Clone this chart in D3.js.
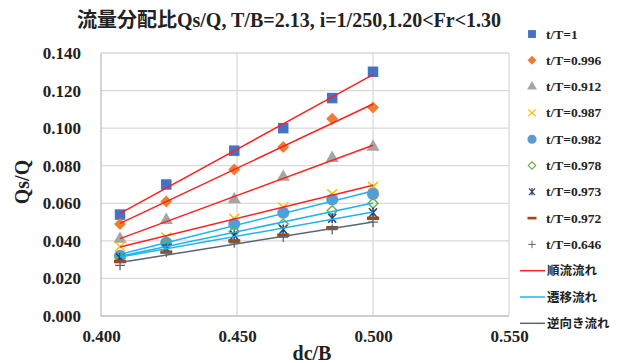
<!DOCTYPE html>
<html>
<head>
<meta charset="utf-8">
<script src="https://cdn.jsdelivr.net/npm/d3@7"></script>
<style>
  body { margin: 0; background: #fff; }
  text { font-family: "Liberation Serif", "Noto Sans CJK JP", serif; font-weight: bold; fill: #222; }
  .jp { font-family: "Noto Sans CJK JP", sans-serif; }
</style>
</head>
<body>
<svg id="chart" width="622" height="363"></svg>
<script>
// dc/B positions of the six runs
const dcB = [0.407, 0.424, 0.449, 0.467, 0.485, 0.500];

// Qs/Q for each t/T series
const s1    = [0.054, 0.070, 0.088, 0.100, 0.116, 0.130];
const s0996 = [0.049, 0.061, 0.078, 0.090, 0.105, 0.111];
const s0912 = [0.041, 0.051, 0.062, 0.074, 0.084, 0.090];
const s0987 = [0.037, 0.042, 0.052, 0.058, 0.065, 0.069];
const s0982 = [0.032, 0.039, 0.049, 0.055, 0.062, 0.065];
const s0978 = [0.031, 0.038, 0.045, 0.049, 0.056, 0.060];
const s0973 = [0.031, 0.036, 0.043, 0.046, 0.052, 0.055];
const s0972 = [0.029, 0.034, 0.040, 0.043, 0.047, 0.052];
const s0646 = [0.027, 0.034, 0.039, 0.042, 0.046, 0.050];

const seriesNames = ["t/T=1", "t/T=0.996", "t/T=0.912", "t/T=0.987", "t/T=0.982",
                     "t/T=0.978", "t/T=0.973", "t/T=0.972", "t/T=0.646"];
const seriesValues = [s1, s0996, s0912, s0987, s0982, s0978, s0973, s0972, s0646];
const seriesShapes = ["square", "diamond", "triangle", "x", "circle", "hdiamond", "star", "dash", "plus"];
const seriesColors = ["#4472C4", "#ED7D31", "#A5A5A5", "#FFC000", "#5B9BD5",
                      "#70AD47", "#264478", "#9E480E", "#636363"];

// trend line groups: index of series -> flow type
const trendNames = ["順流流れ", "遷移流れ", "逆向き流れ"];
const trendColors = ["#FF2020", "#1EB4F0", "#5A6577"];
const trendOf = [0, 0, 0, 0, 1, 1, 1, -1, 2];

const xTicks = [0.400, 0.450, 0.500, 0.550];
const yTicks = [0, 0.02, 0.04, 0.06, 0.08, 0.10, 0.12, 0.14];

const svg = d3.select("#chart");
const x = d3.scaleLinear().domain([0.4, 0.55]).range([101, 509]);
const y = d3.scaleLinear().domain([0, 0.14]).range([316, 53]);

// title
svg.append("text").attr("x", 289).attr("y", 27).attr("text-anchor", "middle")
  .style("font-size", "20px")
  .text("流量分配比Qs/Q, T/B=2.13, i=1/250,1.20<Fr<1.30");

// grid
svg.append("g").selectAll("line").data(yTicks.slice(1)).join("line")
  .attr("x1", x(0.4)).attr("x2", x(0.55))
  .attr("y1", d => y(d)).attr("y2", d => y(d))
  .attr("stroke", "#d9d9d9").attr("stroke-width", 1.3);
svg.append("g").selectAll("line").data(xTicks.slice(1)).join("line")
  .attr("x1", d => x(d)).attr("x2", d => x(d))
  .attr("y1", y(0)).attr("y2", y(0.14))
  .attr("stroke", "#d9d9d9").attr("stroke-width", 1.3);
svg.append("path")
  .attr("d", `M${x(0.4)},${y(0.14)}V${y(0)}H${x(0.55)}`)
  .attr("fill", "none").attr("stroke", "#bfbfbf").attr("stroke-width", 1.3);

// axes
const yAxis = svg.append("g").attr("transform", `translate(${x(0.4)},0)`)
  .call(d3.axisLeft(y).tickValues(yTicks).tickSize(0).tickPadding(20).tickFormat(d3.format(".3f")));
const xAxis = svg.append("g").attr("transform", `translate(0,${y(0)})`)
  .call(d3.axisBottom(x).tickValues(xTicks).tickSize(0).tickPadding(14).tickFormat(d3.format(".3f")));
[yAxis, xAxis].forEach(a => {
  a.select(".domain").remove();
  a.selectAll("text").style("font-size", "17px").style("font-family", "Liberation Serif").attr("fill", "#222");
});

svg.append("text").attr("x", 312).attr("y", 360).attr("text-anchor", "middle")
  .style("font-size", "20px").text("dc/B");
svg.append("text").attr("transform", "translate(29,182) rotate(-90)").attr("text-anchor", "middle")
  .style("font-size", "20px").text("Qs/Q");

// marker drawing
function marker(g, shape, color, cx, cy, k = 1) {
  const sym = { square: d3.symbolSquare, triangle: d3.symbolTriangle, circle: d3.symbolCircle };
  const m = g.append("path").attr("transform", `translate(${cx},${cy}) scale(${k})`);
  if (sym[shape]) {
    const size = { square: 110, triangle: 75, circle: 115 }[shape];
    m.attr("d", d3.symbol(sym[shape], size)()).attr("fill", color);
  } else if (shape === "diamond") {
    m.attr("d", "M0,-6L6,0L0,6L-6,0Z").attr("fill", color);
  } else if (shape === "hdiamond") {
    m.attr("d", "M0,-5L5,0L0,5L-5,0Z")
      .attr("fill", "none").attr("stroke", color).attr("stroke-width", 1.5);
  } else if (shape === "x") {
    m.attr("d", "M-5,-4.5L5,4.5M-5,4.5L5,-4.5").attr("stroke", color).attr("stroke-width", 1.6);
  } else if (shape === "star") {
    m.attr("d", "M-4,-4.5L4,4.5M-4,4.5L4,-4.5M0,-5V5").attr("stroke", color).attr("stroke-width", 1.6);
  } else if (shape === "dash") {
    m.attr("d", "M-6,0H6").attr("stroke", color).attr("stroke-width", 3.5);
  } else if (shape === "plus") {
    m.attr("d", "M-5,0H5M0,-5V5").attr("stroke", color).attr("stroke-width", 1.3);
  }
}

// points
const pts = svg.append("g");
seriesValues.forEach((vals, i) => {
  vals.forEach((v, j) => marker(pts, seriesShapes[i], seriesColors[i], x(dcB[j]), y(v)));
});

// linear trend lines (least squares over each series)
const lines = svg.append("g");
seriesValues.forEach((vals, i) => {
  const t = trendOf[i];
  if (t < 0) return;
  const mx = d3.mean(dcB), my = d3.mean(vals);
  const b = d3.sum(dcB, (d, k) => (d - mx) * (vals[k] - my)) / d3.sum(dcB, d => (d - mx) * (d - mx));
  const a = my - b * mx;
  const x0 = d3.min(dcB), x1 = d3.max(dcB);
  lines.append("line")
    .attr("x1", x(x0)).attr("y1", y(a + b * x0))
    .attr("x2", x(x1)).attr("y2", y(a + b * x1))
    .attr("stroke", trendColors[t]).attr("stroke-width", 1.5);
});

// legend
const leg = svg.append("g");
const rowH = 26.3, legTop = 34;
seriesNames.forEach((name, i) => {
  const cy = legTop + i * rowH;
  marker(leg, seriesShapes[i], seriesColors[i], 532, cy, 0.75);
  leg.append("text").attr("x", 546).attr("y", cy + 4.5).style("font-size", "13.5px").text(name);
});
trendNames.forEach((name, i) => {
  const cy = legTop + (seriesNames.length + i) * rowH;
  leg.append("line").attr("x1", 520).attr("x2", 545).attr("y1", cy).attr("y2", cy)
    .attr("stroke", trendColors[i]).attr("stroke-width", 1.5);
  leg.append("text").attr("class", "jp").attr("x", 547).attr("y", cy + 4.5)
    .style("font-size", "12.5px").style("font-weight", "bold").text(name);
});
</script>
</body>
</html>
